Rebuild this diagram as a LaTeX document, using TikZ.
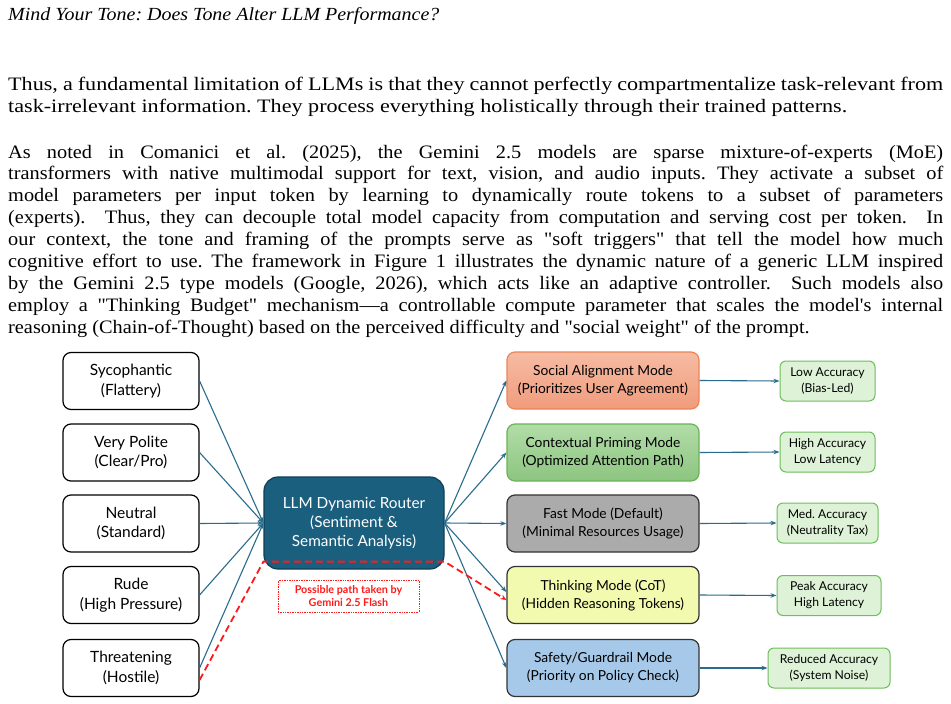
\documentclass[tikz,border=0pt]{standalone}
\usepackage{fontspec}
\setmainfont[FakeStretch=1.07, Ligatures=TeXOff]{Liberation Serif}
\newfontfamily\paraAfont[FakeStretch=1.165, Ligatures=TeXOff]{Liberation Serif}
\newfontfamily\paraBfont[FakeStretch=1.07, Ligatures=TeXOff]{Liberation Serif}
\newfontfamily\titlefont[FakeStretch=1.08, Ligatures=TeXOff]{Liberation Serif}
\newfontfamily\dfont{Lato}
\usetikzlibrary{arrows.meta}
\definecolor{routerfill}{HTML}{1B5F7F}
\definecolor{routerdraw}{HTML}{0F3E54}
\definecolor{conncol}{HTML}{2A6C8C}
\definecolor{socialtop}{HTML}{F6BBA3}
\definecolor{socialbot}{HTML}{F09C7C}
\definecolor{socialdraw}{HTML}{EE8558}
\definecolor{ctxtop}{HTML}{B2DCA8}
\definecolor{ctxbot}{HTML}{8DC580}
\definecolor{ctxdraw}{HTML}{6BB356}
\definecolor{fastfill}{HTML}{ABABAB}
\definecolor{thinkfill}{HTML}{F1FAAE}
\definecolor{safefill}{HTML}{A6C9EA}
\definecolor{darkdraw}{HTML}{333333}
\definecolor{outfill}{HTML}{DDF2D6}
\definecolor{outdraw}{HTML}{6DBE5C}
\definecolor{pathred}{HTML}{FF1A1A}
\newcommand\jline[1]{\hbox to 935pt{#1}}
\newcommand\lline[1]{\hbox{#1}}
\frenchspacing
\begin{document}
\begin{tikzpicture}[x=1pt,y=-1pt,
  lbox/.style={draw=black, line width=1.2pt, fill=white, rounded corners=8pt,
    minimum width=136pt, minimum height=57pt, inner sep=0pt, align=center,
    font=\dfont\fontsize{15.5}{19.5}\selectfont},
  mbox/.style={line width=1.2pt, rounded corners=8pt, minimum width=192pt,
    minimum height=57pt, inner sep=0pt, align=center,
    font=\dfont\fontsize{13.8}{18}\selectfont},
  obox/.style={draw=outdraw, fill=outfill, line width=1pt, rounded corners=6pt,
    minimum height=40pt, inner sep=0pt, align=center,
    font=\dfont\fontsize{12.2}{16}\selectfont},
  conn/.style={draw=conncol, line width=1.1pt, -{Stealth[length=6pt,width=4.5pt]}},
  redpath/.style={draw=pathred, line width=1.8pt, dash pattern=on 7pt off 4pt,
    -{Stealth[length=6pt,width=5pt]}}]
\useasboundingbox (0,0) rectangle (951,704);
\fill[white] (0,0) rectangle (951,704);

% header and body text
\node[anchor=base west, inner sep=0pt, font=\titlefont\itshape\fontsize{18.5}{22}\selectfont] (title) at (8,20)
  {Mind Your Tone: Does Tone Alter LLM Performance?};

\node[anchor=base west, inner sep=0pt] (para1) at (8,90) {\vtop{\paraAfont\fontsize{19}{22}\selectfont
\jline{Thus, a fundamental limitation of LLMs is that they cannot perfectly compartmentalize task-relevant from}
\lline{task-irrelevant information. They process everything holistically through their trained patterns.}}};

\node[anchor=base west, inner sep=0pt] (para2) at (8,158) {\vtop{\paraBfont\fontsize{19}{21.9}\selectfont
\jline{As noted in Comanici et al. (2025), the Gemini 2.5 models are sparse mixture-of-experts (MoE)}
\jline{transformers with native multimodal support for text, vision, and audio inputs. They activate a subset of}
\jline{model parameters per input token by learning to dynamically route tokens to a subset of parameters}
\jline{(experts). \ Thus, they can decouple total model capacity from computation and serving cost per token. \ In}
\jline{our context, the tone and framing of the prompts serve as "soft triggers" that tell the model how much}
\jline{cognitive effort to use. The framework in Figure 1 illustrates the dynamic nature of a generic LLM inspired}
\jline{by the Gemini 2.5 type models (Google, 2026), which acts like an adaptive controller. \ Such models also}
\jline{employ a "Thinking Budget" mechanism—a controllable compute parameter that scales the model's internal}
\lline{reasoning (Chain-of-Thought) based on the perceived difficulty and "social weight" of the prompt.}}};

% left tone boxes
\node[lbox] (syc) at (131,381) {Sycophantic\\(Flattery)};
\node[lbox] (polite) at (131,452.5) {Very Polite\\(Clear/Pro)};
\node[lbox] (neutral) at (131,523.5) {Neutral\\(Standard)};
\node[lbox] (rude) at (131,595) {Rude\\(High Pressure)};
\node[lbox] (threat) at (131,668) {Threatening\\(Hostile)};

% router
\node[draw=routerdraw, fill=routerfill, line width=1.2pt, rounded corners=14pt,
  minimum width=180pt, minimum height=92pt, inner sep=0pt, align=center, text=white,
  font=\dfont\fontsize{15.3}{19}\selectfont] (router) at (354,523)
  {LLM Dynamic Router\\(Sentiment \&\\Semantic Analysis)};

% mode boxes
\node[mbox, draw=socialdraw, top color=socialtop, bottom color=socialbot] (social) at (603,380.5)
  {Social Alignment Mode\\(Prioritizes User Agreement)};
\node[mbox, draw=ctxdraw, top color=ctxtop, bottom color=ctxbot] (context) at (603,452.5)
  {Contextual Priming Mode\\(Optimized Attention Path)};
\node[mbox, draw=darkdraw, fill=fastfill] (fast) at (603,523.5)
  {Fast Mode (Default)\\(Minimal Resources Usage)};
\node[mbox, draw=darkdraw, fill=thinkfill] (think) at (603,595)
  {Thinking Mode (CoT)\\(Hidden Reasoning Tokens)};
\node[mbox, draw=darkdraw, fill=safefill] (safety) at (603,668)
  {Safety/Guardrail Mode\\(Priority on Policy Check)};

% outcome boxes
\node[obox, minimum width=95pt] (low) at (827.5,381) {Low Accuracy\\(Bias-Led)};
\node[obox, minimum width=95pt] (high) at (827.5,452) {High Accuracy\\Low Latency};
\node[obox, minimum width=101pt] (med) at (827.5,523) {Med. Accuracy\\(Neutrality Tax)};
\node[obox, minimum width=104pt] (peak) at (829,595.5) {Peak Accuracy\\High Latency};
\node[obox, minimum width=122pt] (reduced) at (829,668) {Reduced Accuracy\\(System Noise)};

% red label
\node[draw=pathred, densely dotted, line width=0.7pt, minimum width=141pt, minimum height=32pt,
  inner sep=0pt, text=pathred, align=center, font=\dfont\bfseries\fontsize{10.8}{13}\selectfont]
  (lbl) at (348.5,596) {Possible path taken by\\Gemini 2.5 Flash};

% connectors: tones -> router
\draw[conn] (syc.east) -- (router.west);
\draw[conn] (polite.east) -- (router.west);
\draw[conn] (neutral.east) -- (router.west);
\draw[conn] (rude.east) -- (router.west);
\draw[conn] (threat.east) -- (router.west);

% router -> modes
\draw[conn] (router.east) -- (social.west);
\draw[conn] (router.east) -- (context.west);
\draw[conn] (router.east) -- (fast.west);
\draw[conn] (router.east) -- ([yshift=3pt]think.west);
\draw[conn] (router.east) -- (safety.west);

% modes -> outcomes
\draw[conn] (social.east) -- (low.west);
\draw[conn] (context.east) -- (high.west);
\draw[conn] (fast.east) -- (med.west);
\draw[conn] (think.east) -- (peak.west);
\draw[conn] (safety.east) -- (reduced.west);

% red dashed path
\draw[redpath] ([yshift=-12pt]threat.east) -- ([yshift=8pt]router.south west)
  -- ([yshift=8pt]router.south east) -- ([yshift=-5pt]think.west);
\end{tikzpicture}
\end{document}
